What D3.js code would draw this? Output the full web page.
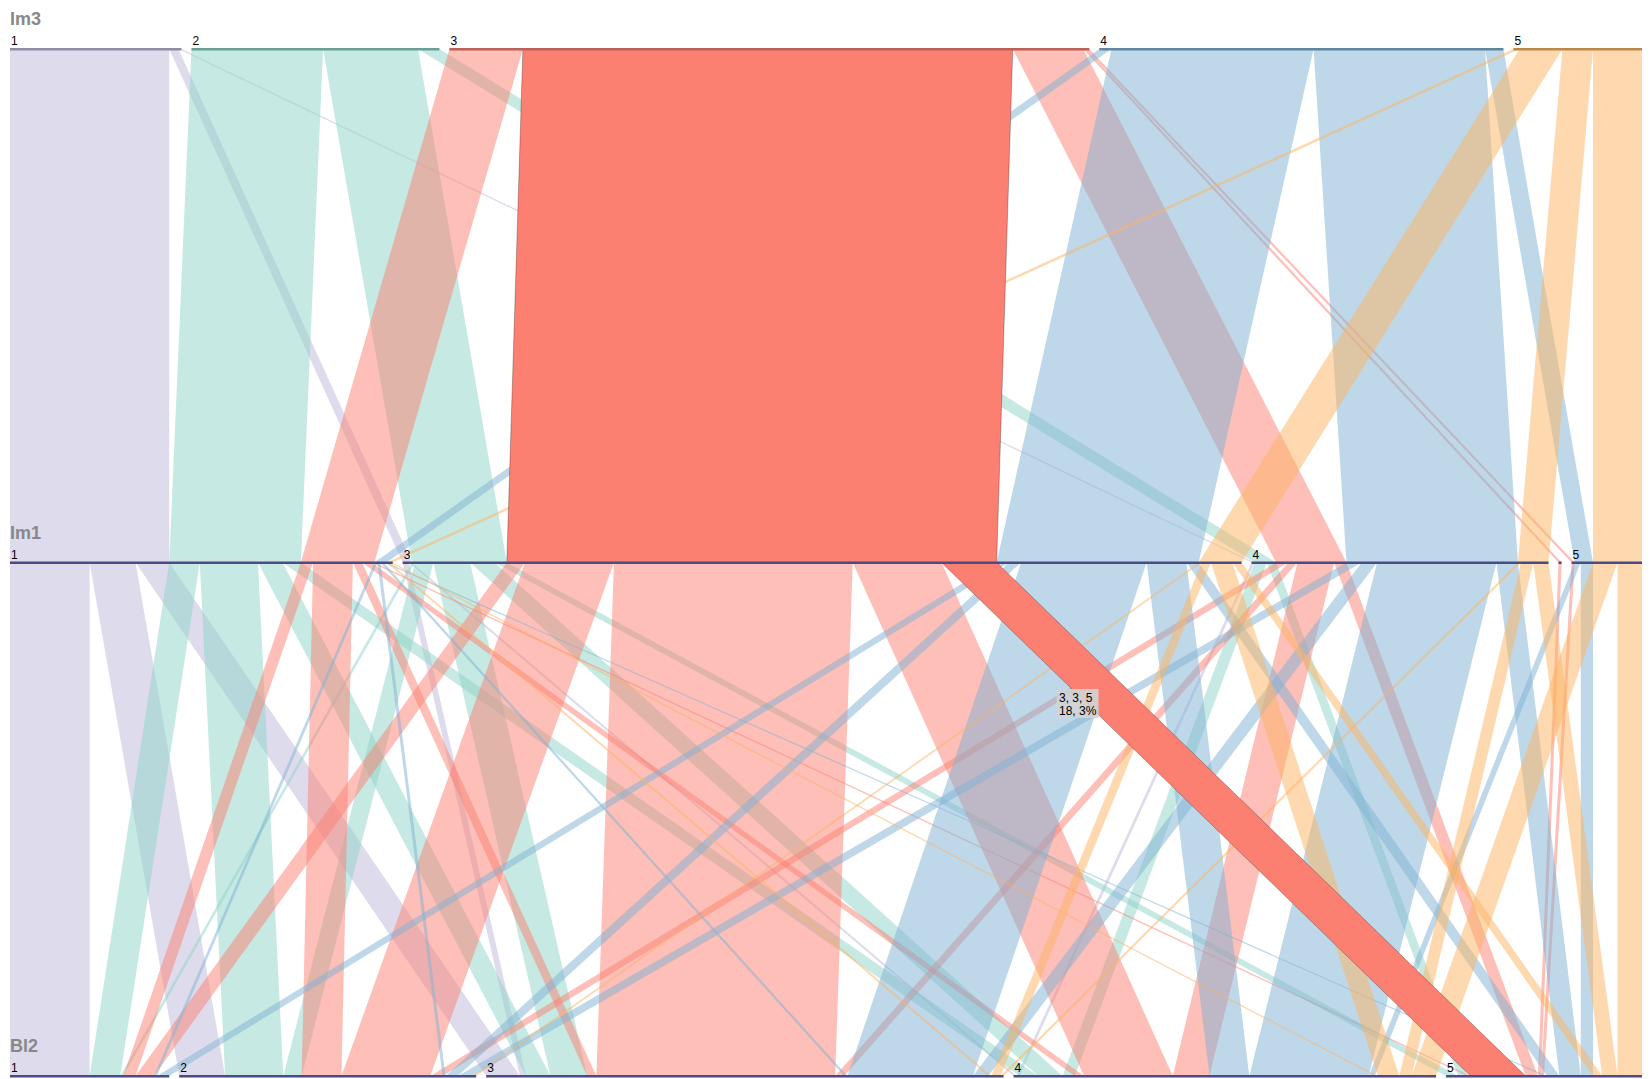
<!DOCTYPE html>
<html><head><meta charset="utf-8">
<script src="https://cdn.jsdelivr.net/npm/d3@7"></script>
<style>body{margin:0;background:#fff;} svg{display:block;font-family:"Liberation Sans",Arial,sans-serif;}</style>
</head><body>
<script>
// ---------------- data ----------------
const dimensionNames = ["Im3", "Im1", "Bl2"];
const im3Categories = ["1", "2", "3", "4", "5"];
const im1Categories = ["1", "3", "4", "2", "5"];
const bl2Categories = ["1", "2", "3", "4", "5"];
const categoryColors = ["#bebada", "#8dd3c7", "#fb8072", "#80b1d3", "#fdb462"];
// [Im3, Im1, Bl2, count]
const records = [
  ["1","1","1",26],["1","1","2",15],["1","1","3",11],
  ["2","1","1",10],["2","1","2",19],["2","1","3",8],["2","1","4",6],
  ["3","1","1",4],["3","1","2",13],["3","1","3",3],["3","1","4",3],["3","1","5",1],
  ["4","1","1",1],["4","1","2",1],["4","1","3",1],["4","1","5",1],
  ["5","1","3",1],["5","1","4",1],
  ["1","3","3",2],["1","3","4",1],
  ["2","3","1",1],["2","3","2",6],["2","3","3",12],["2","3","4",8],["2","3","5",4],
  ["3","3","1",6],["3","3","2",29],["3","3","3",78],["3","3","4",29],["3","3","5",18],
  ["4","3","1",4],["4","3","2",4],["4","3","3",41],["4","3","4",13],["4","3","5",4],
  ["5","3","2",1],["5","3","3",3],["5","3","4",7],["5","3","5",3],
  ["1","4","4",1],
  ["2","4","4",4],["2","4","5",3],
  ["3","4","2",4],["3","4","3",3],["3","4","4",12],["3","4","5",4],
  ["4","4","2",5],["4","4","3",5],["4","4","4",39],["4","4","5",7],
  ["5","4","3",1],["5","4","4",4],["5","4","5",5],
  ["3","2","5",1],
  ["3","5","5",1],
  ["4","5","4",2],["4","5","5",4],
  ["5","5","4",8],["5","5","5",8]
];
const highlightedPath = ["3", "3", "5"];

// ---------------- layout ----------------
const W = 1652, H = 1079;
const left = 10, right = 1642, spacing = 40;
const categories = [im3Categories, im1Categories, bl2Categories];
const N = d3.sum(records, r => r[3]);
const widthScale = d3.scaleLinear().domain([0, N]).range([0, right - left - spacing]);
const yScale = d3.scalePoint().domain(dimensionNames).range([49, 1076]);
const color = d3.scaleOrdinal().domain(im3Categories).range(categoryColors);

const svg = d3.select("body").append("svg").attr("width", W).attr("height", H);

const dims = dimensionNames.map((name, i) => {
  const cats = categories[i];
  const gap = spacing / (cats.length - 1);
  let x = left;
  const catMap = new Map();
  cats.forEach(c => {
    const count = d3.sum(records.filter(r => r[i] === c), r => r[3]);
    const dx = widthScale(count);
    catMap.set(c, {name: c, x, dx, count, outOff: 0, inOff: 0});
    x += dx + gap;
  });
  return {name, i, y: yScale(name), cats, catMap};
});

function pathsAt(L) {
  const m = new Map();
  records.forEach(r => {
    const key = r.slice(0, L).join("|");
    m.set(key, (m.get(key) || 0) + r[3]);
  });
  const arr = Array.from(m, ([k, count]) => ({path: k.split("|"), count}));
  arr.sort((p, q) => {
    for (let j = 0; j < L; j++) {
      const d = categories[j].indexOf(p.path[j]) - categories[j].indexOf(q.path[j]);
      if (d) return d;
    }
    return 0;
  });
  return arr;
}

const ribbons = [];
for (let i = 0; i < dims.length - 1; i++) {
  const src = dims[i], tgt = dims[i + 1];
  pathsAt(i + 2).forEach(p => {
    const s = src.catMap.get(p.path[i]);
    const t = tgt.catMap.get(p.path[i + 1]);
    const dx = widthScale(p.count);
    const sx = s.x + s.outOff; s.outOff += dx;
    const tx = t.x + t.inOff; t.inOff += dx;
    const active = p.path.every((c, j) => c === highlightedPath[j]);
    ribbons.push({path: p.path, count: p.count, sx, sy: src.y, tx, ty: tgt.y, dx, active});
  });
}

function ribbonPath(d) {
  const p = d3.path();
  p.moveTo(d.sx, d.sy);
  p.lineTo(d.sx + d.dx, d.sy);
  p.lineTo(d.tx + d.dx, d.ty);
  p.lineTo(d.tx, d.ty);
  p.closePath();
  return p.toString();
}

const gR = svg.append("g");
gR.selectAll("path.ribbon").data(ribbons.filter(d => !d.active)).join("path")
  .attr("class", "ribbon")
  .attr("d", ribbonPath)
  .attr("fill", d => color(d.path[0]))
  .attr("fill-opacity", 0.5)
  .attr("stroke", "none");
gR.selectAll("path.active").data(ribbons.filter(d => d.active)).join("path")
  .attr("class", "active")
  .attr("d", ribbonPath)
  .attr("fill", d => color(d.path[0]))
  .attr("fill-opacity", 1)
  .attr("stroke", "#000")
  .attr("stroke-opacity", 0.45)
  .attr("stroke-width", 0.6);

// ---------------- dimensions ----------------
const gD = svg.append("g").selectAll("g").data(dims).join("g");
gD.append("text")
  .attr("x", left)
  .attr("y", d => d.y - 24)
  .attr("font-size", 18)
  .attr("font-weight", "bold")
  .attr("fill", "#888")
  .text(d => d.name);

gD.each(function(d) {
  const g = d3.select(this);
  const cats = d.cats.map(c => d.catMap.get(c));
  g.selectAll("rect").data(cats).join("rect")
    .attr("x", c => c.x)
    .attr("y", d.y - 1)
    .attr("width", c => c.dx)
    .attr("height", 2.5)
    .attr("fill", c => d.i === 0 ? d3.color(color(c.name)).darker(0.8) : "#4b4b85");
  g.selectAll("text.cat").data(cats).join("text")
    .attr("class", "cat")
    .attr("x", c => c.x + 1)
    .attr("y", d.y - 4)
    .attr("font-size", 12)
    .attr("fill", "#000")
    .text(c => c.name)
    .each(function(c) {
      if (this.getComputedTextLength() > c.dx) d3.select(this).text("");
    });
});

// ---------------- tooltip ----------------
const hl = ribbons.find(d => d.active && d.path.length === highlightedPath.length);
const pct = d3.format(".0%");
const tip = svg.append("g").attr("transform", "translate(1056.5,689)");
const lines = [hl.path.join(", "), hl.count + ", " + pct(hl.count / N)];
tip.append("rect").attr("width", 42).attr("height", 29).attr("fill", "#d2d2d2").attr("fill-opacity", 0.92);
tip.selectAll("text").data(lines).join("text")
  .attr("x", 2.5)
  .attr("y", (d, i) => 12.5 + i * 13)
  .attr("font-size", 12)
  .attr("fill", "#000")
  .text(d => d);
</script>
</body></html>
